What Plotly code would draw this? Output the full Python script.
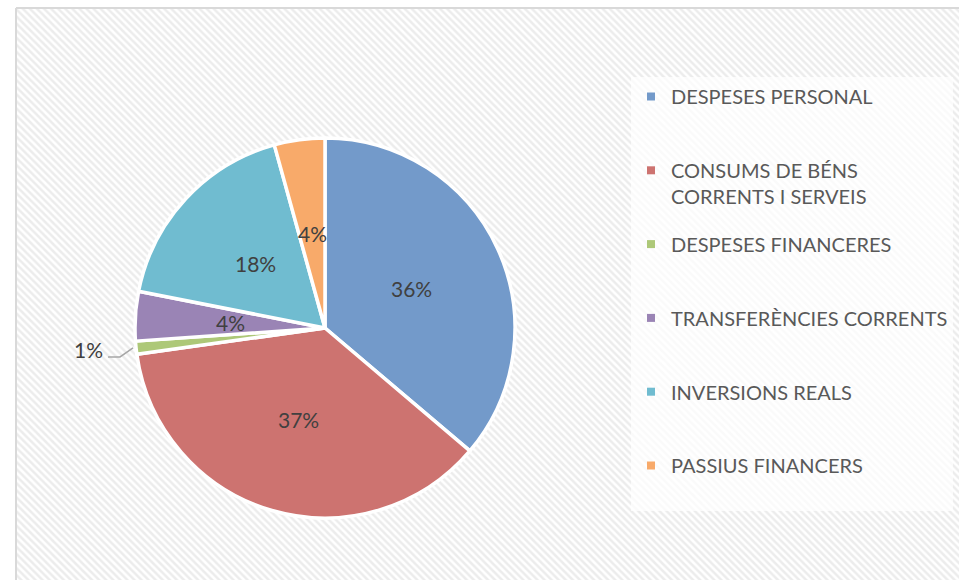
import math
import plotly.graph_objects as go

# ---------------- data ----------------
categories = [
    "DESPESES PERSONAL",
    "CONSUMS DE BÉNS<br>CORRENTS I SERVEIS",
    "DESPESES FINANCERES",
    "TRANSFERÈNCIES CORRENTS",
    "INVERSIONS REALS",
    "PASSIUS FINANCERS",
]
values = [36.2, 36.6, 1.1, 4.2, 17.6, 4.3]
colors = ["#739aca", "#cd7370", "#adc878", "#9a84b5", "#70bcd0", "#f8aa6a"]
outside_labels = [False, False, True, False, False, False]

# ---------------- layout constants ----------------
W, H = 959, 580
CX, CY, R = 325, 328, 190
FONT = "Lato"

fig = go.Figure()

# hatched chart-area background
fig.add_trace(go.Scatter(
    x=[16, W + 30, W + 30, 16, 16], y=[8, 8, H + 30, H + 30, 8],
    mode="lines", fill="toself", fillcolor="white",
    fillpattern=dict(shape="\\", fgcolor="#dadada", bgcolor="white", size=5, solidity=0.5),
    line=dict(color="#d9d9d9", width=2),
    hoverinfo="skip", showlegend=False,
))

# pie
plain_labels = [c.replace("<br>", " ") for c in categories]
fig.add_trace(go.Pie(
    labels=plain_labels, values=values, sort=False, direction="clockwise", rotation=0,
    marker=dict(colors=colors, line=dict(color="white", width=3.5)),
    textinfo="none", showlegend=False, hoverinfo="label+percent",
    domain=dict(x=[(CX - R) / W, (CX + R) / W], y=[1 - (CY + R) / H, 1 - (CY - R) / H]),
))

# percentage labels placed from the data angles
total = sum(values)
cum = 0.0
annotations = []
for v, out in zip(values, outside_labels):
    mid = (cum + v / 2) / total * 2 * math.pi
    cum += v
    txt = f"{v / total * 100:.0f}%"
    if not out:
        annotations.append(dict(
            x=CX + 0.5 * R * math.sin(mid), y=CY - 0.5 * R * math.cos(mid),
            xref="x", yref="y", text=txt, showarrow=False,
            font=dict(family=FONT, size=21, color="#404040"),
        ))
    else:
        x1 = CX + (R + 3) * math.sin(mid)
        y1 = CY - (R + 3) * math.cos(mid)
        x2, y2 = x1 - 13, y1 + 9
        x3, y3 = x2 - 12, y2
        fig.add_trace(go.Scatter(
            x=[x1, x2, x3], y=[y1, y2, y3], mode="lines",
            line=dict(color="#a6a6a6", width=1.5), hoverinfo="skip", showlegend=False,
        ))
        annotations.append(dict(
            x=x3 - 3, y=y3 - 7, xref="x", yref="y", text=txt, showarrow=False,
            xanchor="right", font=dict(family=FONT, size=21, color="#404040"),
        ))

# legend entries (one group each, so the spacing can match)
for i, (c, col) in enumerate(zip(categories, colors)):
    name = c if "<br>" in c else c + "<br> "
    fig.add_trace(go.Scatter(
        x=[None], y=[None], mode="markers", name=name, legendgroup=f"g{i}",
        marker=dict(symbol="square", size=8, color=col),
    ))

fig.update_layout(
    width=W, height=H,
    margin=dict(l=0, r=0, t=0, b=0, autoexpand=False),
    paper_bgcolor="white", plot_bgcolor="rgba(0,0,0,0)",
    xaxis=dict(range=[0, W], visible=False, fixedrange=True),
    yaxis=dict(range=[H, 0], visible=False, fixedrange=True),
    annotations=annotations,
    legend=dict(
        x=631 / W, y=1 - 77 / H, xanchor="left", yanchor="top",
        bgcolor="rgba(255,255,255,0.72)", borderwidth=0,
        font=dict(family=FONT, size=20, color="#595959"),
        traceorder="grouped", tracegroupgap=18.8, valign="top",
        itemclick=False, itemdoubleclick=False,
    ),
    font=dict(family=FONT),
)

fig.write_html("out.html")
